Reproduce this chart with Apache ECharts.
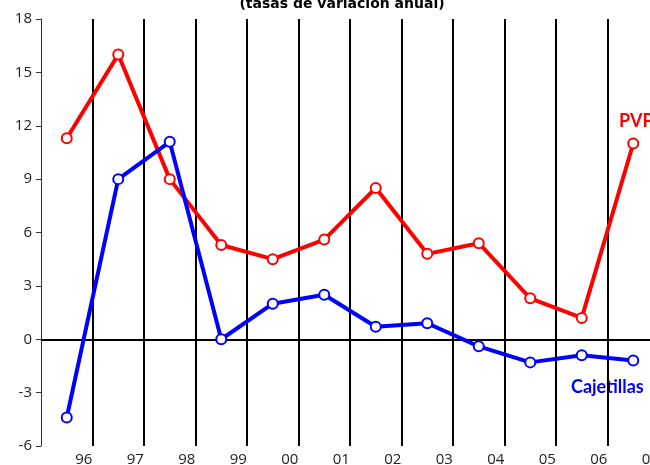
<!DOCTYPE html>
<html>
<head>
<meta charset="utf-8">
<script src="https://cdn.jsdelivr.net/npm/echarts@6/dist/echarts.min.js"></script>
<style>
  html, body { margin: 0; padding: 0; background: #fff; }
  #chart { width: 650px; height: 465px; }
</style>
</head>
<body>
<div id="chart"></div>
<script>
const years = ['96', '97', '98', '99', '00', '01', '02', '03', '04', '05', '06', '07'];
const pvp = [11.3, 16.0, 9.0, 5.3, 4.5, 5.6, 8.5, 4.8, 5.4, 2.3, 1.2, 11.0];
const cajetillas = [-4.4, 9.0, 11.1, 0.0, 2.0, 2.5, 0.7, 0.9, -0.4, -1.3, -0.9, -1.2];

const chart = echarts.init(document.getElementById('chart'));

function lineSeries(name, data, color) {
  return {
    name: name,
    type: 'line',
    data: data,
    symbol: 'emptyCircle',
    symbolSize: 10,
    lineStyle: { color: color, width: 4 },
    itemStyle: { color: color, borderWidth: 2 },
    z: 5
  };
}

const labelFont = { fontFamily: 'Open Sans', fontSize: 15, color: '#222' };

chart.setOption({
  animation: false,
  grid: { left: 41, right: -9, top: 19, bottom: 19, outerBoundsMode: 'none', containLabel: false },
  title: {
    text: '(tasas de variación anual)',
    left: 337, textAlign: 'center', top: -8,
    textStyle: { fontFamily: 'DejaVu Sans', fontSize: 14, fontWeight: 'bold', color: '#000' }
  },
  xAxis: {
    type: 'category',
    data: years,
    boundaryGap: true,
    axisLine: { show: false },
    axisTick: { show: false },
    axisLabel: Object.assign({ margin: 6, padding: [0, 0, 0, 34] }, labelFont),
    splitLine: {
      show: true,
      interval: (i) => i > 0,
      lineStyle: { color: '#000', width: 2 }
    }
  },
  yAxis: {
    type: 'value',
    min: -6, max: 18, interval: 3,
    axisLine: { show: true, lineStyle: { color: '#333', width: 1 } },
    axisTick: { show: true, length: 5, lineStyle: { color: '#333' } },
    axisLabel: Object.assign({ margin: 9 }, labelFont),
    splitLine: { show: false }
  },
  series: [
    Object.assign(lineSeries('PVP', pvp, '#ff0000'), {
      markLine: {
        silent: true,
        symbol: 'none',
        label: { show: false },
        lineStyle: { color: '#000', width: 2, type: 'solid' },
        data: [{ yAxis: 0 }]
      }
    }),
    lineSeries('Cajetillas', cajetillas, '#0000ff')
  ],
  graphic: [
    { type: 'text', left: 619, top: 112,
      style: { text: 'PVP', fill: '#ff0000', font: 'bold 18px Lato' } },
    { type: 'text', left: 571, top: 378,
      style: { text: 'Cajetillas', fill: '#0000ff', font: 'bold 18px Lato' } }
  ]
});
</script>
</body>
</html>
